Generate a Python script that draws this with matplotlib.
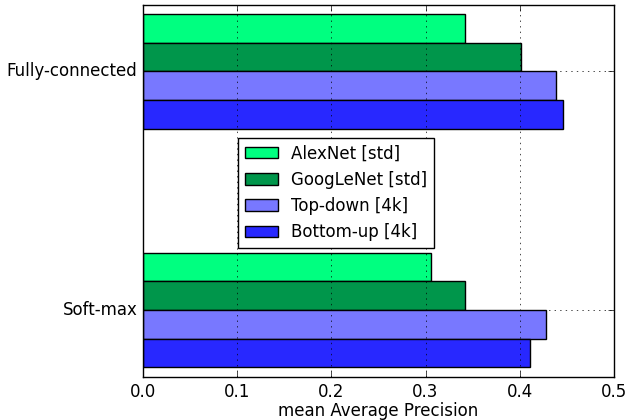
import numpy as np
import matplotlib

matplotlib.use("Agg")
import matplotlib.pyplot as plt

plt.style.use("classic")

# groups from top to bottom
groups = ["Fully-connected", "Soft-max"]
models = ["AlexNet [std]", "GoogLeNet [std]", "Top-down [4k]", "Bottom-up [4k]"]
colors = ["#00ff80", "#00964b", "#7878ff", "#2828ff"]

# mAP per model, [Fully-connected, Soft-max]
alexnet = [0.342, 0.306]
googlenet = [0.401, 0.342]
topdown = [0.438, 0.428]
bottomup = [0.446, 0.411]
values = [alexnet, googlenet, topdown, bottomup]

centers = np.array([1.0, 0.0])
h = 0.12
offsets = [1.5 * h, 0.5 * h, -0.5 * h, -1.5 * h]

fig = plt.figure(figsize=(6.29, 4.2), dpi=100)
fig.patch.set_facecolor("white")
ax = fig.add_axes([0.2273, 0.1024, 0.7487, 0.8856])

for name, vals, off, c in zip(models, values, offsets, colors):
    ax.barh(centers + off, vals, height=h, align="center", color=c,
            edgecolor="k", linewidth=1, label=name)

ax.set_yticks(centers)
ax.set_yticklabels(groups)
ax.set_ylim(-0.28, 1.278)
ax.set_xlim(0, 0.5)
ax.set_xticks(np.arange(0, 0.51, 0.1))
ax.set_xlabel("mean Average Precision", labelpad=1)
ax.grid(True)
ax.legend(loc="center", bbox_to_anchor=(0.41, 0.495), fontsize=12)

fig.savefig("out.png", dpi=100, facecolor="white")
